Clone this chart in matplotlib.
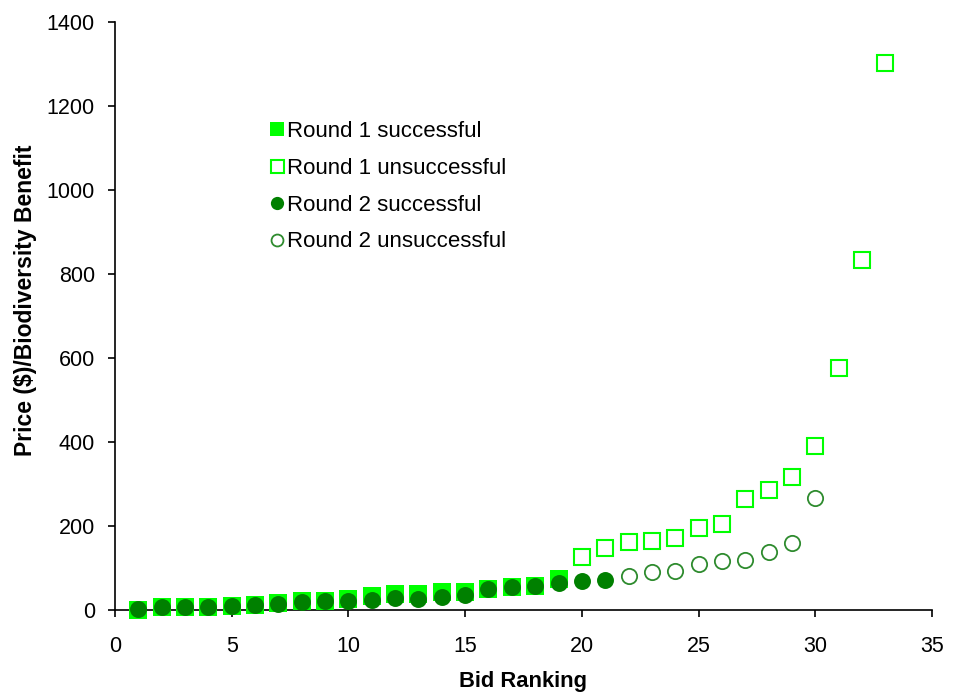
import matplotlib
matplotlib.use("Agg")
import matplotlib.pyplot as plt

plt.rcParams['font.family'] = ['Liberation Sans', 'DejaVu Sans']

# Round 1 successful (filled squares)
r1s_x = list(range(1, 20))
r1s_y = [0, 6, 6, 6, 10, 13, 16, 22, 22, 27, 33, 38, 38, 44, 44, 49, 54, 57, 74]
# Round 1 unsuccessful (open squares)
r1u_x = list(range(20, 34))
r1u_y = [126, 148, 161, 164, 171, 195, 204, 264, 286, 317, 391, 576, 833, 1302]
# Round 2 successful (filled circles)
r2s_x = list(range(1, 22))
r2s_y = [3, 6, 8, 8, 10, 11, 14, 19, 21, 22, 25, 29, 27, 32, 35, 51, 54, 57, 65, 68, 71]
# Round 2 unsuccessful (open circles)
r2u_x = list(range(22, 31))
r2u_y = [82, 90, 94, 110, 116, 119, 139, 159, 266]

xticks = [0, 5, 10, 15, 20, 25, 30, 35]
yticks = [0, 200, 400, 600, 800, 1000, 1200, 1400]

bright = '#00FF00'
dark = '#008000'

W, H = 956, 695
fig = plt.figure(figsize=(W/100, H/100), dpi=100)
x0, x1, y0, y1 = 115, 932, 610, 22
ax = fig.add_axes([x0/W, 1-y0/H, (x1-x0)/W, (y0-y1)/H])

ax.plot(r1s_x, r1s_y, ls='none', marker='s', ms=13, mfc=bright, mec=bright,
        mew=0, label='Round 1 successful', zorder=3, clip_on=False)
ax.plot(r1u_x, r1u_y, ls='none', marker='s', ms=12, mfc='none', mec=bright,
        mew=1.5, label='Round 1 unsuccessful', zorder=3, clip_on=False)
ax.plot(r2s_x, r2s_y, ls='none', marker='o', ms=12.2, mfc=dark, mec=dark,
        mew=0, label='Round 2 successful', zorder=4, clip_on=False)
ax.plot(r2u_x, r2u_y, ls='none', marker='o', ms=11, mfc='none', mec='#2e8b2e',
        mew=1.3, label='Round 2 unsuccessful', zorder=4, clip_on=False)

ax.set_xlim(0, 35)
ax.set_ylim(0, 1400)
ax.set_xticks(xticks)
ax.set_yticks(yticks)
for s in ['top', 'right']:
    ax.spines[s].set_visible(False)
for s in ['left', 'bottom']:
    ax.spines[s].set_linewidth(1.2)
ax.tick_params(direction='out', length=5, width=1.2, labelsize=15.5, colors='black')
ax.tick_params(axis='x', pad=13.5)
ax.tick_params(axis='y', pad=9.5)
ax.set_xlabel('Bid Ranking', fontsize=15.8, fontweight='bold')
ax.set_ylabel('Price ($)/Biodiversity Benefit', fontsize=16.5, fontweight='bold')
ax.xaxis.set_label_coords((523-x0)/(x1-x0), (y0-671)/(y0-y1))
ax.yaxis.set_label_coords((37-x0)/(x1-x0), (y0-300)/(y0-y1))

leg = ax.legend(loc='upper left', bbox_to_anchor=(259/W, 1-110/H),
                bbox_transform=fig.transFigure, frameon=False, fontsize=16,
                markerscale=0.78, handlelength=0.6, handletextpad=0.17,
                labelspacing=0.71, borderpad=0)

fig.savefig('out.png', dpi=100)
